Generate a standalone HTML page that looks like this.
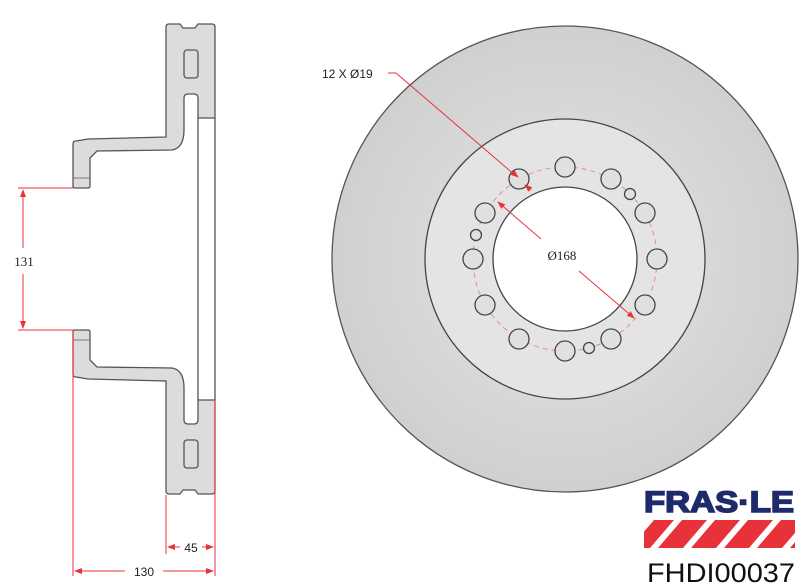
<!DOCTYPE html>
<html><head><meta charset="utf-8"><style>
html,body{margin:0;padding:0;background:#fff;}
svg{display:block;}
</style></head><body>
<svg width="800" height="585" viewBox="0 0 800 585" xmlns="http://www.w3.org/2000/svg">
<defs>
<radialGradient id="g1" cx="50%" cy="50%" r="50%">
<stop offset="60%" stop-color="#d8d8d8"/><stop offset="100%" stop-color="#d0d0d0"/>
</radialGradient>
<marker id="ar" markerWidth="8" markerHeight="6" refX="7" refY="3" orient="auto" markerUnits="userSpaceOnUse">
<path d="M0,0 L8,3 L0,6 Z" fill="#e8323a"/></marker>
<g id="half">
<path d="M166,27 Q166,24 169,24 L180,24 L183,28 L195,28 L198,24 L212,24 Q215,24 215,27 L215,118 L198,118 L198,98 Q198,94 194,94 L188,94 Q184,94 184,98 L184,130 Q184,148 172,150 L97,151 L90,158 L90,186 Q90,188 88,188 L75,188 Q73,188 73,186 L73,144 Q73,141 76,141 L88,139 L166,137 Z" fill="#dcdcdc" stroke="#555" stroke-width="1.3"/>
<rect x="184" y="50" width="14" height="28" rx="3" fill="#dcdcdc" stroke="#555" stroke-width="1.3"/>
<line x1="73" y1="178" x2="90" y2="178" stroke="#777" stroke-width="1"/>
</g>
</defs>

<use href="#half"/>
<use href="#half" transform="translate(0,518) scale(1,-1)"/>
<line x1="198" y1="118" x2="198" y2="400" stroke="#555" stroke-width="1.3"/>
<line x1="215" y1="118" x2="215" y2="400" stroke="#555" stroke-width="1.3"/>

<g stroke="#e8323a" stroke-width="1" fill="none">
<line x1="18" y1="188" x2="73" y2="188"/>
<line x1="18" y1="330" x2="73" y2="330"/>
<line x1="23" y1="248" x2="23" y2="190" marker-end="url(#ar)"/>
<line x1="23" y1="274" x2="23" y2="328" marker-end="url(#ar)"/>
<line x1="73" y1="330" x2="73" y2="576"/>
<line x1="215" y1="400" x2="215" y2="576"/>
<line x1="166" y1="495" x2="166" y2="554"/>
<line x1="125" y1="571" x2="75" y2="571" marker-end="url(#ar)"/>
<line x1="163" y1="571" x2="213" y2="571" marker-end="url(#ar)"/>
<line x1="180" y1="547" x2="168" y2="547" marker-end="url(#ar)"/>
<line x1="202" y1="547" x2="213" y2="547" marker-end="url(#ar)"/>
</g>
<g font-family="Liberation Sans, sans-serif" font-size="12" fill="#222">
<text x="24" y="266" text-anchor="middle" font-family="Liberation Serif, serif" font-size="13">131</text>
<text x="144" y="576" text-anchor="middle">130</text>
<text x="191" y="552" text-anchor="middle">45</text>
</g>

<circle cx="565" cy="259" r="233" fill="url(#g1)" stroke="#555" stroke-width="1.3"/>
<circle cx="565" cy="259" r="140" fill="#e4e4e4" stroke="#444" stroke-width="1.3"/>
<circle cx="565" cy="259" r="72" fill="#fff" stroke="#444" stroke-width="1.3"/>
<circle cx="565" cy="259" r="92" fill="none" stroke="#eb8a90" stroke-width="1" stroke-dasharray="5,4"/>
<g fill="#e0e0e0" stroke="#444" stroke-width="1.3">
<circle cx="565" cy="167" r="10"/>
<circle cx="611" cy="179" r="10"/>
<circle cx="645" cy="213" r="10"/>
<circle cx="657" cy="259" r="10"/>
<circle cx="645" cy="305" r="10"/>
<circle cx="611" cy="339" r="10"/>
<circle cx="565" cy="351" r="10"/>
<circle cx="519" cy="339" r="10"/>
<circle cx="485" cy="305" r="10"/>
<circle cx="473" cy="259" r="10"/>
<circle cx="485" cy="213" r="10"/>
<circle cx="519" cy="179" r="10"/>
<circle cx="630" cy="194" r="5.5"/>
<circle cx="589" cy="348" r="5.5"/>
<circle cx="476" cy="235" r="5.5"/>
</g>
<g stroke="#e8323a" stroke-width="1" fill="none">
<polyline points="388,73 396,73 516,176"/>
<line x1="512" y1="172" x2="518" y2="177" marker-end="url(#ar)"/>
<line x1="531" y1="190" x2="525" y2="185" marker-end="url(#ar)"/>
<line x1="541" y1="239" x2="498" y2="202" marker-end="url(#ar)"/>
<line x1="579" y1="271" x2="634" y2="318" marker-end="url(#ar)"/>
</g>
<text x="322" y="78" font-family="Liberation Sans, sans-serif" font-size="12" fill="#222">12 X Ø19</text>
<text x="562" y="260" font-family="Liberation Serif, serif" font-size="13" fill="#222" text-anchor="middle">Ø168</text>

<text x="719" y="512" font-family="Liberation Sans, sans-serif" font-size="30" font-weight="900" fill="#1f2a6b" stroke="#1f2a6b" stroke-width="1.6" text-anchor="middle" textLength="150" lengthAdjust="spacingAndGlyphs">FRAS·LE</text>
<clipPath id="cl"><rect x="644" y="520" width="151" height="28"/></clipPath>
<g clip-path="url(#cl)" fill="#e8323a">
<polygon points="630,548 650,548 674,520 654,520"/>
<polygon points="658,548 683,548 707,520 682,520"/>
<polygon points="691,548 716,548 740,520 715,520"/>
<polygon points="724,548 749,548 773,520 748,520"/>
<polygon points="757,548 782,548 806,520 781,520"/>
<polygon points="790,548 815,548 839,520 814,520"/>
</g>
<text x="721" y="582" font-family="Liberation Sans, sans-serif" font-size="27" fill="#111" text-anchor="middle" textLength="148" lengthAdjust="spacingAndGlyphs">FHDI00037</text>
</svg>
</body></html>
